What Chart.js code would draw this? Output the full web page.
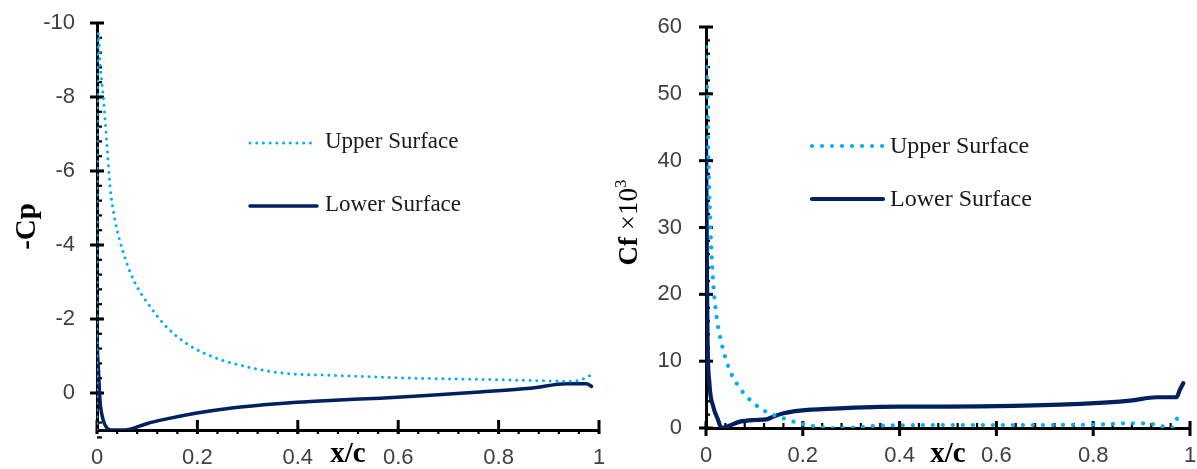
<!DOCTYPE html>
<html>
<head>
<meta charset="utf-8">
<script src="https://cdn.jsdelivr.net/npm/chart.js@4.4.0/dist/chart.umd.min.js"></script>
<style>
  body { margin: 0; background: #fff; overflow: hidden; }
  #wrap { position: relative; width: 1197px; height: 469px; }
  #cpChart { position: absolute; left: 0; top: 0; }
  #cfChart { position: absolute; left: 600px; top: 0; }
</style>
</head>
<body>
<div id="wrap">
  <canvas id="cpChart" width="620" height="469"></canvas>
  <canvas id="cfChart" width="597" height="469"></canvas>
</div>
<script>
// pressure coefficient along the chord
const cpUpperX = [0, 0.0003, 0.001, 0.002, 0.0026, 0.0066, 0.013, 0.02, 0.026, 0.036, 0.053, 0.073, 0.106, 0.139, 0.179, 0.232, 0.285, 0.352, 0.405, 0.464, 0.63, 0.796, 0.942, 0.96, 0.985];
const cpUpperY = [1.0, -3.0, -7.0, -9.2, -9.73, -8.83, -7.92, -6.66, -5.58, -4.67, -3.77, -3.05, -2.33, -1.78, -1.33, -0.97, -0.75, -0.57, -0.50, -0.48, -0.40, -0.36, -0.32, -0.34, -0.49];
const cpLowerX = [0, 0.001, 0.0026, 0.006, 0.0126, 0.02, 0.028, 0.04, 0.055, 0.066, 0.099, 0.139, 0.199, 0.265, 0.332, 0.398, 0.464, 0.564, 0.664, 0.763, 0.863, 0.936, 0.975, 0.985];
const cpLowerY = [-1.6, -1.1, -0.7, 0.2, 0.74, 0.95, 1.0, 1.0, 1.0, 0.98, 0.83, 0.70, 0.54, 0.41, 0.32, 0.25, 0.20, 0.14, 0.06, -0.03, -0.13, -0.25, -0.25, -0.18];

// skin friction (x 1000)
const cfUpperX = [0, 0.001, 0.003, 0.0055, 0.0097, 0.015, 0.022, 0.032, 0.046, 0.063, 0.091, 0.125, 0.16, 0.194, 0.229, 0.263, 0.30, 0.35, 0.40, 0.50, 0.60, 0.70, 0.80, 0.88, 0.92, 0.94, 0.955, 0.965, 0.972, 0.979];
const cfUpperY = [57, 54, 49, 39, 29, 21.6, 16.6, 12.7, 9.2, 6.7, 4.2, 2.4, 1.45, 0.7, 0.2, 0.0, 0.05, 0.3, 0.4, 0.45, 0.45, 0.45, 0.5, 0.7, 0.6, 0.3, 0.0, 0.1, 1.2, 2.3];
const cfLowerX = [0, 0.0014, 0.003, 0.007, 0.015, 0.025, 0.032, 0.043, 0.07, 0.10, 0.125, 0.139, 0.16, 0.194, 0.263, 0.40, 0.497, 0.635, 0.773, 0.876, 0.931, 0.972, 0.979, 0.986];
const cfLowerY = [43, 29, 14.2, 6.7, 3.2, 1.2, 0.0, 0.2, 0.95, 1.2, 1.3, 1.7, 2.2, 2.6, 2.9, 3.2, 3.2, 3.3, 3.6, 4.1, 4.6, 4.6, 5.7, 6.7];

const xTicks = [0, 0.2, 0.4, 0.6, 0.8, 1];
const cpTicks = [-10, -8, -6, -4, -2, 0];
const cfTicks = [0, 10, 20, 30, 40, 50, 60];

const seriesNames = ['Upper Surface', 'Lower Surface'];
const lightBlue = '#00B0F0';
const darkBlue = '#002060';

Chart.defaults.font.family = '"Liberation Sans", Arial, sans-serif';

const toPoints = (xs, ys) => xs.map((x, i) => ({ x: x, y: ys[i] }));

// fixed axis box, and no extra edge padding so the plot keeps its size
function fixBox(s, size) {
  if (s.isHorizontal()) s.height = size; else s.width = size;
  s.paddingTop = s.paddingBottom = s.paddingLeft = s.paddingRight = 0;
}

// major ticks cross the axis line, minor ticks sit on one side
const axisTicks = {
  id: 'axisTicks',
  beforeDatasetsDraw(chart, args, o) {
    const ctx = chart.ctx;
    const xs = chart.scales.x, ys = chart.scales.y;
    const ax = chart.chartArea.left, ay = chart.chartArea.bottom;
    ctx.save();
    ctx.strokeStyle = '#000';

    const vTick = (v, out, inn, w) => {
      const p = ys.getPixelForValue(v);
      ctx.lineWidth = w;
      ctx.beginPath(); ctx.moveTo(ax - out, p); ctx.lineTo(ax + inn, p); ctx.stroke();
    };
    const hTick = (v, out, inn, w) => {
      const p = xs.getPixelForValue(v);
      ctx.lineWidth = w;
      ctx.beginPath(); ctx.moveTo(p, ay + out); ctx.lineTo(p, ay - inn); ctx.stroke();
    };

    const nY = Math.round((ys.max - ys.min) / o.yMinor);
    for (let i = 0; i <= nY; i++) vTick(ys.min + i * o.yMinor, o.yMinorLen[0], o.yMinorLen[1], 2.2);
    ys.ticks.forEach(t => vTick(t.value, o.yMajorLen[0], o.yMajorLen[1], 3));

    const nX = Math.round((xs.max - xs.min) / o.xMinor);
    for (let i = 0; i <= nX; i++) hTick(xs.min + i * o.xMinor, o.xMinorLen[0], o.xMinorLen[1], 2.2);
    xs.ticks.forEach(t => hTick(t.value, o.xMajorLen[0], o.xMajorLen[1], 3));
    ctx.restore();
  }
};

// legend drawn inside the plot, one row per dataset
const lineLegend = {
  id: 'lineLegend',
  afterDatasetsDraw(chart, args, o) {
    const ctx = chart.ctx;
    chart.data.datasets.forEach((ds, i) => {
      const y = o.rows[i];
      ctx.save();
      ctx.strokeStyle = ds.borderColor;
      ctx.lineWidth = ds.borderWidth;
      ctx.lineCap = ds.borderCapStyle || 'butt';
      ctx.setLineDash(ds.borderDash || []);
      ctx.beginPath(); ctx.moveTo(o.x0, y); ctx.lineTo(o.x1, y); ctx.stroke();
      ctx.setLineDash([]);
      ctx.fillStyle = '#1a1a1a';
      ctx.font = o.font;
      ctx.textBaseline = 'alphabetic';
      ctx.fillText(ds.label, o.textX, y + o.textDy);
      ctx.restore();
    });
  }
};

// "Cf ×10³" with a bold symbol and a plain factor
const cfTitle = {
  id: 'cfTitle',
  afterDraw(chart, args, o) {
    const ctx = chart.ctx;
    const area = chart.chartArea;
    const parts = [
      { t: 'Cf', f: 'bold 27px "Liberation Serif"', dy: 0 },
      { t: ' \u00d710', f: '27px "Liberation Serif"', dy: 0 },
      { t: '3', f: '17px "Liberation Serif"', dy: -11 }
    ];
    let total = 0;
    parts.forEach(p => { ctx.font = p.f; p.w = ctx.measureText(p.t).width; total += p.w; });
    ctx.save();
    ctx.translate(o.x, (area.top + area.bottom) / 2 - o.shift);
    ctx.rotate(-Math.PI / 2);
    ctx.fillStyle = '#000';
    ctx.textBaseline = 'alphabetic';
    let pos = -total / 2;
    parts.forEach(p => { ctx.font = p.f; ctx.fillText(p.t, pos, p.dy); pos += p.w; });
    ctx.restore();
  }
};

function xScale(height) {
  return {
    type: 'linear', min: 0, max: 1,
    afterBuildTicks: s => { s.ticks = xTicks.map(v => ({ value: v })); },
    afterFit: s => fixBox(s, height),
    grid: { display: false, drawTicks: false },
    border: { display: true, color: '#000', width: 3 },
    ticks: { padding: 15, color: '#404040', font: { size: 22 }, maxRotation: 0, callback: v => String(v) },
    title: {
      display: true, text: 'x/c', color: '#000',
      font: { family: '"Liberation Serif"', size: 29, weight: 'bold', lineHeight: 1 },
      padding: { top: 0, bottom: 0 }
    }
  };
}

const cpChart = new Chart(document.getElementById('cpChart'), {
  type: 'line',
  data: {
    datasets: [
      { label: seriesNames[0], data: toPoints(cpUpperX, cpUpperY), borderColor: lightBlue, borderWidth: 3,
        borderDash: [0.01, 6.7], borderCapStyle: 'round', pointRadius: 0, cubicInterpolationMode: 'monotone' },
      { label: seriesNames[1], data: toPoints(cpLowerX, cpLowerY), borderColor: darkBlue, borderWidth: 3.5,
        borderCapStyle: 'round', borderJoinStyle: 'round', pointRadius: 0, cubicInterpolationMode: 'monotone' }
    ]
  },
  options: {
    responsive: false,
    animation: false,
    devicePixelRatio: 1,
    layout: { padding: { left: 0, top: 23, right: 21, bottom: 0 } },
    scales: {
      x: xScale(39),
      y: {
        type: 'linear', min: -10, max: 1, reverse: true,
        afterBuildTicks: s => { s.ticks = cpTicks.map(v => ({ value: v })); },
        afterFit: s => fixBox(s, 97),
        grid: { display: false, drawTicks: false },
        border: { display: true, color: '#000', width: 3 },
        ticks: { padding: 22, color: '#404040', font: { size: 22 }, callback: v => String(v) },
        title: {
          display: true, text: '-Cp', color: '#000',
          font: { family: '"Liberation Serif"', size: 29, weight: 'bold', lineHeight: 1.2 },
          padding: { top: 10, bottom: 0 }
        }
      }
    },
    plugins: {
      legend: { display: false },
      tooltip: { enabled: false },
      axisTicks: { yMinor: 0.4, xMinor: 0.04, yMajorLen: [7, 7], yMinorLen: [0, 5], xMajorLen: [4, 10], xMinorLen: [4, 0] },
      lineLegend: { x0: 250, x1: 317, textX: 325, rows: [143, 206], textDy: 4.5, font: '23px "Liberation Serif"' }
    }
  },
  plugins: [axisTicks, lineLegend]
});

const cfChart = new Chart(document.getElementById('cfChart'), {
  type: 'line',
  data: {
    datasets: [
      { label: seriesNames[0], data: toPoints(cfUpperX, cfUpperY), borderColor: lightBlue, borderWidth: 4.2,
        borderDash: [0.01, 10], borderCapStyle: 'round', pointRadius: 0, cubicInterpolationMode: 'monotone' },
      { label: seriesNames[1], data: toPoints(cfLowerX, cfLowerY), borderColor: darkBlue, borderWidth: 4.2,
        borderCapStyle: 'round', borderJoinStyle: 'round', pointRadius: 0, cubicInterpolationMode: 'monotone' }
    ]
  },
  options: {
    responsive: false,
    animation: false,
    devicePixelRatio: 1,
    layout: { padding: { left: 0, top: 27, right: 7, bottom: 0 } },
    scales: {
      x: xScale(41),
      y: {
        type: 'linear', min: 0, max: 60,
        afterBuildTicks: s => { s.ticks = cfTicks.map(v => ({ value: v })); },
        afterFit: s => fixBox(s, 106),
        grid: { display: false, drawTicks: false },
        border: { display: true, color: '#000', width: 3 },
        ticks: { padding: 24, color: '#404040', font: { size: 22 }, callback: v => String(v) }
      }
    },
    plugins: {
      legend: { display: false },
      tooltip: { enabled: false },
      axisTicks: { yMinor: 2, xMinor: 0.04, yMajorLen: [7, 7], yMinorLen: [0, 4], xMajorLen: [8, 7], xMinorLen: [0, 5] },
      lineLegend: { x0: 212, x1: 283, textX: 290, rows: [146, 199], textDy: 7, font: '24px "Liberation Serif"' },
      cfTitle: { x: 37, shift: 5 }
    }
  },
  plugins: [axisTicks, lineLegend, cfTitle]
});
</script>
</body>
</html>
